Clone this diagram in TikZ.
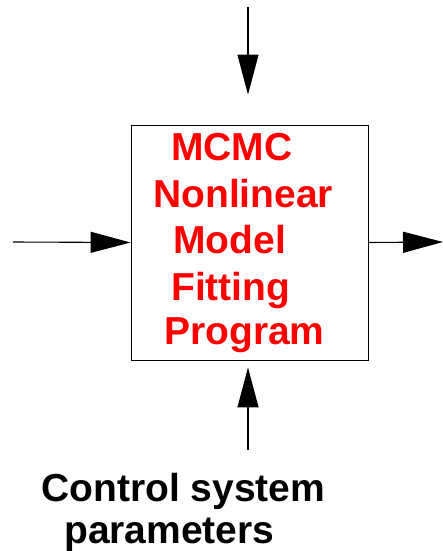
\documentclass[tikz,border=0pt]{standalone}
\usepackage{fontspec}
\setmainfont{Liberation Sans}
\usetikzlibrary{arrows.meta}

\begin{document}
\begin{tikzpicture}[x=1pt, y=-1pt,
  boxline/.style={draw, line width=0.9pt},
  flow/.style={line width=1.1pt, -{Triangle[length=40pt, width=21pt]}},
  redtext/.style={text=red, font=\bfseries\fontsize{39}{46}\selectfont, inner sep=0pt, anchor=base west},
  blacktext/.style={font=\bfseries\fontsize{39}{46}\selectfont, inner sep=0pt, anchor=base west}]
\useasboundingbox (0,0) rectangle (443,551);

% the program box
\node[boxline, minimum width=237pt, minimum height=235pt, inner sep=0pt] (prog) at (249.5,242.5) {};

\foreach \x/\y/\t [count=\i] in {171/160/MCMC, 153/207/Nonlinear, 173/253/Model, 171/300/Fitting, 164/344/Program}
{
	\node[redtext] (line\i) at (\x,\y) {\t};
}

% inputs and output
\coordinate (intop) at (248,7);
\coordinate (inleft) at (13,242);
\coordinate (outright) at (443,242);
\coordinate (inbottom) at (248,450);

\draw[flow] (intop) -- ([xshift=-1.5pt, yshift=30pt]prog.north);
\draw[flow] (inleft) -- (prog.west);
\draw[flow] (prog.east) -- (outright);
\draw[flow] (inbottom) -- ([xshift=-1.5pt, yshift=-7pt]prog.south);

\node[blacktext] (ctrl1) at (41,501) {Control system};
\node[blacktext] (ctrl2) at (64,543) {parameters};
\end{tikzpicture}
\end{document}
